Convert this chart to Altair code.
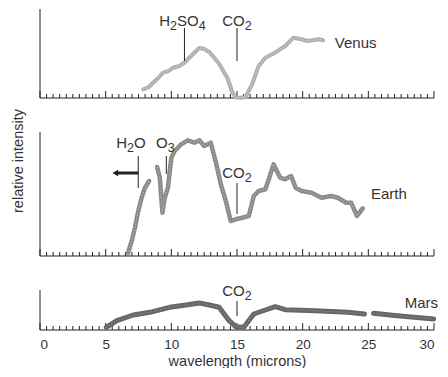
import altair as alt
import pandas as pd

# ---------------- data ----------------
# heights above each panel's baseline, in arbitrary "relative intensity" units
venus_wl = [7.86, 8.3, 8.61, 9.0, 9.37, 9.8, 10.12, 10.6, 11.0, 11.5, 12.13, 12.5, 12.9, 13.6, 14.27, 14.64, 14.9, 15.3, 15.65, 16.15, 16.65, 17.16, 17.9, 18.67, 19.3, 19.9, 20.4, 21.2, 21.55]
venus_int = [8.7, 11.0, 15.3, 20.0, 25.3, 27.0, 30.3, 32.0, 35.3, 42.0, 50.0, 49.0, 46.0, 35.0, 20.0, 6.0, 0.5, 0.3, 1.0, 13.7, 32.0, 40.3, 45.3, 52.0, 60.3, 58.7, 57.0, 58.7, 57.7]

earth_wl = [6.68, 6.98, 7.23, 7.48, 7.74, 7.99, 8.31,
            8.92, 9.12, 9.32, 9.5, 9.74, 10.0, 10.25, 10.75, 11.25, 11.76, 12.13, 12.5, 13.0, 13.4, 13.77, 14.15, 14.52, 14.9, 15.4, 15.9, 16.28, 16.65, 17.16, 17.46, 17.78, 18.29, 18.67, 19.12, 19.47, 19.92, 20.67, 21.43, 22.18, 22.68, 23.31, 23.69, 24.14, 24.57]
earth_int = [2.0, 15.0, 28.3, 45.0, 58.3, 68.3, 75.0,
             89.0, 78.3, 43.3, 58.3, 68.3, 98.3, 105.0, 111.7, 115.7, 113.3, 115.7, 110.0, 113.3, 93.3, 71.7, 55.0, 35.0, 36.7, 38.3, 40.0, 60.0, 65.0, 66.7, 78.3, 91.7, 78.3, 76.7, 80.0, 68.3, 65.0, 63.3, 58.3, 60.0, 58.3, 53.3, 53.3, 40.0, 47.7]
earth_seg = [1] * 7 + [2] * 38

mars_wl = [5.05, 5.85, 7.1, 8.36, 9.87, 11.13, 12.13, 12.89, 13.64, 14.4, 14.9, 15.52, 16.28, 17.16, 17.91, 18.67, 20.93, 23.44, 24.7,
           25.4, 27.2, 29.97]
mars_int = [2.7, 9.3, 15.0, 17.7, 22.7, 25.0, 27.0, 25.0, 22.7, 9.3, 3.3, 2.7, 16.0, 20.0, 23.3, 20.3, 19.3, 17.7, 16.0,
            16.7, 14.3, 11.0]
mars_seg = [1] * 19 + [2] * 3

x_labels = [0, 5, 10, 15, 20, 25, 30]
major_ticks = [0, 5, 10, 15, 20, 25, 30]
minor_ticks = [m / 2 for m in range(61) if m % 10 != 0]

FONT = "Liberation Sans"
TXT = "#333333"
FS = 15        # annotation font size
FS_SUB = 12.5  # subscript font size

# Arial/Liberation advance widths (per 1000 em) for the glyphs used in the formulas
ADV = {"H": 722, "S": 667, "O": 778, "C": 722, "2": 556, "3": 556, "4": 556}

# panel heights (px)
H_V, H_E, H_M = 89, 124, 40
W = 394


def panel(df, H, color, tex, sw, markers, chems, names, arrow=None, bottom=False, ytitle=False):
    xs = alt.Scale(domain=[0, 30], nice=False, zero=False)
    ys = alt.Scale(domain=[0, H], nice=False, zero=False)
    if bottom:
        xa = alt.Axis(values=x_labels, ticks=False, tickSize=0, domain=False, grid=False,
                      labelPadding=7, labelFont=FONT, labelFontSize=13.5, labelColor=TXT,
                      title="wavelength (microns)", titleFont=FONT, titleFontSize=14.5,
                      titleFontWeight="normal", titleColor=TXT, titlePadding=4, format="d")
    else:
        xa = None

    def X(f):
        return alt.X(f, type="quantitative", scale=xs, axis=xa)

    def Y(f):
        return alt.Y(f, type="quantitative", scale=ys, axis=None)

    layers = []
    layers.append(alt.Chart(pd.DataFrame({"a": [0], "b": [30]})).mark_rule(color="#222", strokeWidth=1)
                  .encode(x=X("a"), x2="b", y=alt.value(H)))
    layers.append(alt.Chart(pd.DataFrame({"a": [0]})).mark_rule(color="#222", strokeWidth=1)
                  .encode(x=X("a"), y=alt.value(0), y2=alt.value(H)))
    layers.append(alt.Chart(pd.DataFrame({"t": minor_ticks})).mark_rule(color="#222", strokeWidth=1)
                  .encode(x=X("t"), y=alt.value(H), y2=alt.value(H - 4)))
    layers.append(alt.Chart(pd.DataFrame({"t": major_ticks})).mark_rule(color="#222", strokeWidth=1)
                  .encode(x=X("t"), y=alt.value(H), y2=alt.value(H - 7)))
    layers.append(alt.Chart(df).mark_line(color=color, strokeWidth=sw, strokeJoin="round", strokeCap="round")
                  .encode(x=X("wl"), y=Y("v"), detail="seg:N", order="i:Q"))
    # stippled texture on the spectrum line
    layers.append(alt.Chart(df).mark_line(color=tex, strokeWidth=1.4, strokeDash=[1, 2], strokeJoin="round")
                  .encode(x=X("wl"), y=Y("v"), detail="seg:N", order="i:Q"))
    if markers:
        md = pd.DataFrame(markers, columns=["wl", "y1", "y2"])
        layers.append(alt.Chart(md).mark_rule(color="#222", strokeWidth=1)
                      .encode(x=X("wl"), y=Y("y1"), y2="y2"))
    if arrow:
        ad = pd.DataFrame([arrow], columns=["a", "b", "v"])
        layers.append(alt.Chart(ad).mark_rule(color="#222", strokeWidth=3)
                      .encode(x=X("a"), x2="b", y=Y("v")))
        layers.append(alt.Chart(ad).mark_point(shape="triangle-left", filled=True, color="#222", size=45, opacity=1)
                      .encode(x=X("a"), y=Y("v")))
    # chemical formulas with real subscripts (pieces laid out left to right)
    for wl, v, pieces in chems:
        widths = [sum(ADV[c] for c in s) / 1000 * (FS_SUB if sub else FS) for s, sub in pieces]
        off = -sum(widths) / 2
        pt = pd.DataFrame({"wl": [wl], "v": [v]})
        for (s, sub), w in zip(pieces, widths):
            layers.append(alt.Chart(pt).mark_text(align="left", baseline="alphabetic", dx=off, dy=3.5 if sub else 0,
                                                  font=FONT, fontSize=FS_SUB if sub else FS, color=TXT)
                          .encode(x=X("wl"), y=Y("v"), text=alt.value(s)))
            off += w
    for wl, v, t, align, dx in names:
        layers.append(alt.Chart(pd.DataFrame({"wl": [wl], "v": [v], "t": [t]}))
                      .mark_text(align=align, baseline="middle", dx=dx, font=FONT, fontSize=FS, color=TXT)
                      .encode(x=X("wl"), y=Y("v"), text="t"))
    if ytitle:
        layers.append(alt.Chart(pd.DataFrame({"t": ["relative intensity"]}))
                      .mark_text(angle=270, align="center", baseline="middle", font=FONT, fontSize=14.5, color=TXT)
                      .encode(x=alt.value(-21), y=alt.value(29), text="t"))
    return alt.layer(*layers).properties(width=W, height=H)


vdf = pd.DataFrame({"wl": venus_wl, "v": venus_int, "seg": 1, "i": range(len(venus_wl))})
edf = pd.DataFrame({"wl": earth_wl, "v": earth_int, "seg": earth_seg, "i": range(len(earth_wl))})
mdf = pd.DataFrame({"wl": mars_wl, "v": mars_int, "seg": mars_seg, "i": range(len(mars_wl))})

venus = panel(vdf, H_V, "#aeaeae", "#d6d6d6", 4,
              markers=[[11.0, 37, 70], [15.0, 37, 70]],
              chems=[[10.85, 72, [("H", 0), ("2", 1), ("SO", 0), ("4", 1)]],
                     [15.0, 72, [("CO", 0), ("2", 1)]]],
              names=[[22.45, 55, "Venus", "left", 0]])
earth = panel(edf, H_E, "#8a8a8a", "#b8b8b8", 4.5,
              markers=[[7.48, 68, 100], [9.62, 82, 100], [15.0, 42, 73]],
              chems=[[6.93, 108, [("H", 0), ("2", 1), ("O", 0)]],
                     [9.55, 108, [("O", 0), ("3", 1)]],
                     [15.0, 78, [("CO", 0), ("2", 1)]]],
              names=[[25.2, 62, "Earth", "left", 0]],
              arrow=[5.73, 7.48, 83], ytitle=True)
mars = panel(mdf, H_M, "#666666", "#909090", 5,
             markers=[[15.0, 14, 29]],
             chems=[[15.0, 34, [("CO", 0), ("2", 1)]]],
             names=[[30, 27, "Mars", "right", 4]], bottom=True)

chart = alt.vconcat(venus, earth, mars, spacing=34, bounds="flush").properties(
    padding={"left": 2, "top": 0, "right": 0, "bottom": 0}
).configure_view(stroke=None)

chart.save("out.html", embed_options={"renderer": "svg", "actions": False})
